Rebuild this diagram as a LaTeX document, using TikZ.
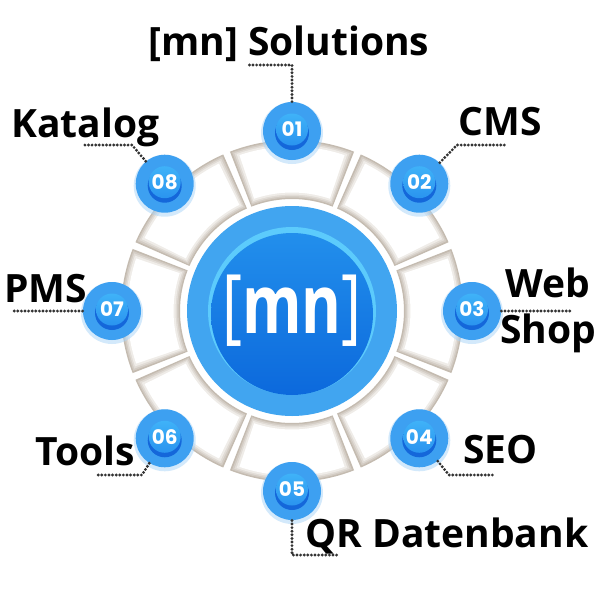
\documentclass[tikz,border=0pt]{standalone}
\usepackage{fontspec}
\usepackage{graphicx}
\usetikzlibrary{calc}
\newfontfamily\lblfont{Open Sans}
\newfontfamily\numfont{Poppins}
\definecolor{tileA}{HTML}{C4BBB0}
\definecolor{tileB}{HTML}{D3CCC4}
\definecolor{tileC}{HTML}{E1DCD6}
\definecolor{tileD}{HTML}{EFECE8}
\definecolor{hubring}{HTML}{41A5F0}
\definecolor{hubrim}{HTML}{5CCBFC}
\definecolor{hubtop}{HTML}{228FEC}
\definecolor{hubbot}{HTML}{0C69DC}
\definecolor{btnring}{HTML}{3DA0F1}
\definecolor{btnhi}{HTML}{3FB2F8}
\definecolor{btnmid}{HTML}{2A94EF}
\definecolor{btnlow}{HTML}{1467DA}
\definecolor{glow}{HTML}{A8D4F8}
\definecolor{leadgray}{HTML}{333333}

\begin{document}
\begin{tikzpicture}[x=0.5pt,y=-0.5pt,
  lbl/.style={font=\lblfont\bfseries\fontsize{19.5}{23}\selectfont,anchor=base west,inner sep=0pt},
  leader/.style={draw=leadgray,line width=1.6pt,line cap=round,dash pattern=on 0pt off 1.8pt},
  numdisc/.style={circle,fill=btnring,minimum size=29pt,inner sep=0pt},
  numtxt/.style={text=white,font=\numfont\bfseries\fontsize{10}{12}\selectfont,inner sep=0pt},
  hub/.style={circle,fill=hubring,minimum size=105pt,inner sep=0pt,text=white,
    font=\lblfont\bfseries\fontsize{41}{44}\selectfont,
    path picture={
      \fill[hubrim] (path picture bounding box.center) circle (84);
      \shade[top color=hubtop,bottom color=hubbot] ([yshift=-1.5pt]path picture bounding box.center) circle (81);
    }}]
\useasboundingbox[fill=white] (0,0) rectangle (600,600);
\coordinate (ctr) at (292,311);

\foreach \a in {0,45,...,315}{
  \foreach \d/\col in {0/tileA,1.5/tileB,3/tileC,4.5/tileD,6.5/white}{
    \pgfmathsetmacro{\ri}{112+\d}
    \pgfmathsetmacro{\ro}{171-\d}
    \pgfmathsetmacro{\s}{\a-22.5+(3+\d)*57.3/141}
    \pgfmathsetmacro{\e}{\a+22.5-(3+\d)*57.3/141}
    \fill[\col] ($(ctr)+(\s:\ri)$) arc[start angle=\s,end angle=\e,radius=\ri]
      -- ($(ctr)+(\e:\ro)$) arc[start angle=\e,end angle=\s,radius=\ro] -- cycle;
  }
}

\node[hub] (hub) at (ctr) {\scalebox{0.74}[1]{{\mdseries[}mn{\mdseries]}}};

\foreach \i in {1,...,8}{
  \pgfmathsetmacro{\a}{270+45*(\i-1)}
  \fill[glow,opacity=0.5] ($(ctr)+(\a:180)+(0,2)$) circle (31);
  \path (ctr) ++(\a:180) node[numdisc] (n\i) {};
  \fill[btnlow] ($(n\i)+(0,2)$) circle (17);
  \shade[top color=btnhi,bottom color=btnmid] ($(n\i)+(0,-1.5)$) circle (16);
  \node[numtxt] (d\i) at ($(n\i)+(0,-1.5)$) {0\i};
}

\coordinate (e1) at (247,65);
\coordinate (k2) at (457,145);
\coordinate (e2) at (506,145);
\coordinate (e3) at (571,311);
\coordinate (k4) at (449,475);
\coordinate (e4) at (495,475);
\coordinate (e5) at (338,555);
\coordinate (k6) at (142,475);
\coordinate (e6) at (95,475);
\coordinate (e7) at (13,311);
\coordinate (k8) at (132,145);
\coordinate (e8) at (82,145);

\draw[leader] (n1.north) |- (e1);
\draw[leader] (n2) -- (k2) -- (e2);
\draw[leader] (n3.east) -- (e3);
\draw[leader] (n4) -- (k4) -- (e4);
\draw[leader] (n5.south) |- (e5);
\draw[leader] (n6) -- (k6) -- (e6);
\draw[leader] (n7.west) -- (e7);
\draw[leader] (n8) -- (k8) -- (e8);

\node[lbl] (t1) at (148,55) {[mn] Solutions};
\node[lbl] (t2) at (458,135) {CMS};
\node[lbl,anchor=center,align=center] (t3) at (548,310) {Web\\Shop};
\node[lbl] (t4) at (463,463) {SEO};
\node[lbl] (t5) at (305,547) {QR Datenbank};
\node[lbl] (t6) at (35,465) {Tools};
\node[lbl] (t7) at (4,302) {PMS};
\node[lbl] (t8) at (11,137) {Katalog};
\end{tikzpicture}
\end{document}
